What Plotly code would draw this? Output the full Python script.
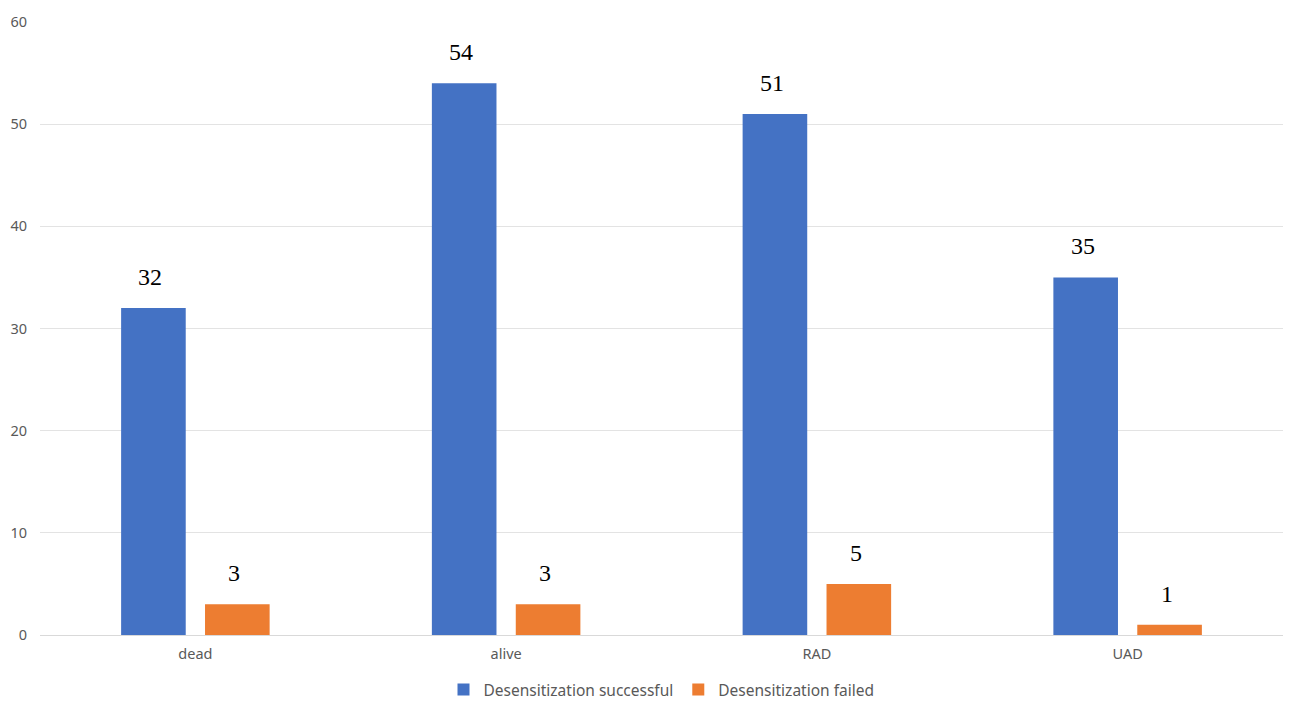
import plotly.graph_objects as go

categories = ["dead", "alive", "RAD", "UAD"]
successful = [32, 54, 51, 35]
failed = [3, 3, 5, 1]
series_names = ["Desensitization successful", "Desensitization failed"]
y_ticks = [0, 10, 20, 30, 40, 50, 60]

BLUE = "#4472C4"
ORANGE = "#ED7D31"
BARGAP = 0.46
BARGROUPGAP = 0.23

fig = go.Figure()
fig.add_trace(go.Bar(x=categories, y=successful, name=series_names[0],
                     marker=dict(color=BLUE, line=dict(width=0))))
fig.add_trace(go.Bar(x=categories, y=failed, name=series_names[1],
                     marker=dict(color=ORANGE, line=dict(width=0))))

offset = (1 - BARGAP) / 4
annotations = []
for i, (s, f) in enumerate(zip(successful, failed)):
    for val, dx in ((s, -offset), (f, offset)):
        annotations.append(dict(
            x=i + dx, y=val, xref="x", yref="y", text=str(val), showarrow=False,
            yanchor="middle", yshift=31, xshift=-3,
            font=dict(family="Liberation Serif, Times New Roman, serif", size=24, color="#000000"),
        ))

# page body has a default 8px margin, so the figure is sized to fit the window
fig.update_layout(
    width=1291, height=703,
    margin=dict(l=32, r=16, t=14, b=76, autoexpand=False),
    paper_bgcolor="white", plot_bgcolor="white",
    barmode="group", bargap=BARGAP, bargroupgap=BARGROUPGAP,
    showlegend=True,
    legend=dict(orientation="h", x=0.5, xanchor="center", y=-0.062, yanchor="top",
                font=dict(family="Noto Sans, Arial, sans-serif", size=15.5, color="#595959"),
                itemwidth=30, traceorder="normal"),
    annotations=annotations,
    font=dict(family="Noto Sans, Arial, sans-serif", color="#595959"),
)
fig.update_xaxes(type="category", showline=True, linecolor="#D9D9D9", linewidth=1,
                 automargin=False, ticklabelstandoff=6,
                 ticks="", tickfont=dict(size=14.5, color="#595959"), showgrid=False)
fig.update_yaxes(range=[0, 60], tickvals=y_ticks, showgrid=True, gridcolor="#E3E3E3",
                 automargin=False,
                 gridwidth=1, zeroline=False, showline=False, ticks="",
                 tickfont=dict(size=14.5, color="#595959"), ticklabelstandoff=12)

fig.write_html("out.html")
